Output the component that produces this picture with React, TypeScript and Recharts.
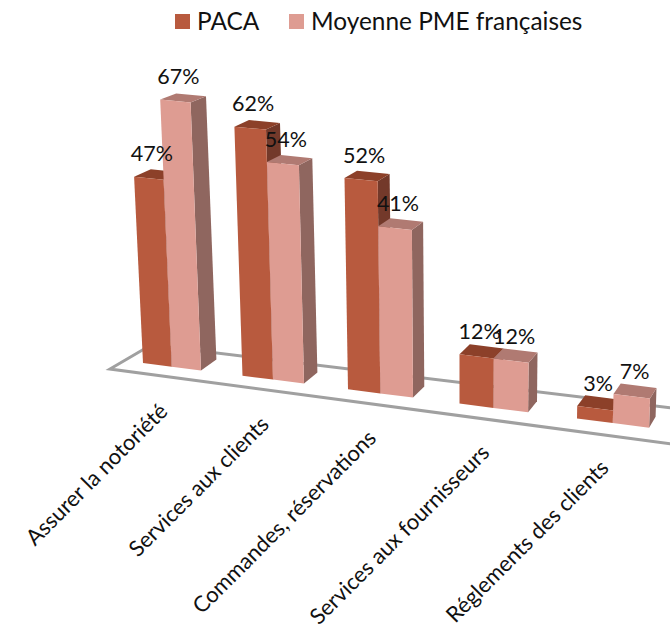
import { BarChart, Bar, XAxis, YAxis, LabelList, Customized } from 'recharts';

const categories = [
  'Assurer la notoriété',
  'Services aux clients',
  'Commandes, réservations',
  'Services aux fournisseurs',
  'Réglements des clients',
];
const paca = [47, 62, 52, 12, 3];
const moyenne = [67, 54, 41, 12, 7];

const data = categories.map((name, i) => ({ name, paca: paca[i], moyenne: moyenne[i] }));

const FONT = 'Lato, sans-serif';
const BAND = 108.5;
const FIRST_X = 143;

// the original is a 3D chart: push the library's flat coordinates onto a tilted floor
function project(x: number, h: number, d: number) {
  const t = (x - FIRST_X) / BAND;
  const bx = FIRST_X + 96.5 * t + 3 * t * t;
  const by = 363 + 0.128 * (bx - FIRST_X);
  const s = (0.985 + 0.00012 * (bx - FIRST_X)) * (1 + 0.00003 * h);
  const sh = h * s;
  const px = bx - sh * (460 - bx) * 0.00015;
  return [px + d * (19.5 - 0.02 * bx), by - sh - d * (11 - 0.018 * h)];
}

const pts = (list: number[][]) => list.map((p) => `${p[0].toFixed(1)},${p[1].toFixed(1)}`).join(' ');

function Bar3D(props: any) {
  const { x, width: w, height: h, front, top, side } = props;
  const fl = project(x, h, 0);
  const fr = project(x + w, h, 0);
  const bl = project(x, h, 1);
  const br = project(x + w, h, 1);
  const fl0 = project(x, 0, 0);
  const fr0 = project(x + w, 0, 0);
  const br0 = project(x + w, 0, 1);
  return (
    <g>
      <polygon points={pts([fr, br, br0, fr0])} fill={side} />
      <polygon points={pts([fl, fr, br, bl])} fill={top} />
      <polygon points={pts([fl, fr, fr0, fl0])} fill={front} />
    </g>
  );
}

function ValueLabel(props: any) {
  const { x, width, height, value } = props;
  const [px, py] = project(x + width / 2, height, 0);
  return (
    <text x={px + 3} y={py - 25} textAnchor="middle" dominantBaseline="central" fontFamily={FONT} fontSize={21.5} fill="#111">
      {value}%
    </text>
  );
}

function CategoryTick(props: any) {
  const { x, payload } = props;
  const [px, py] = project(x, 0, 0);
  return (
    <text
      transform={`translate(${px - 3},${py + 46}) rotate(-45)`}
      textAnchor="end"
      fontFamily={FONT}
      fontSize={22}
      fill="#111"
    >
      {payload.value}
    </text>
  );
}

function Floor() {
  return (
    <polygon
      points="110,369 151,345 672,408 672,444"
      fill="#fff"
      stroke="#a0a0a0"
      strokeWidth={3}
    />
  );
}

function LegendRow() {
  return (
    <svg x={0} y={0}>
      <rect x={175} y={14} width={15} height={15} fill="#B85A3E" />
      <text x={197} y={30} fontFamily={FONT} fontSize={24.4} fill="#111">PACA</text>
      <rect x={289} y={14} width={15} height={15} fill="#DE9C92" />
      <text x={311} y={30} fontFamily={FONT} fontSize={24.4} fill="#111">Moyenne PME françaises</text>
    </svg>
  );
}

export default function App() {
  return (
    <div style={{ position: 'absolute', left: 0, top: 0, width: 670, height: 629 }}>
      <BarChart
        width={670}
        height={629}
        data={data}
        margin={{ top: 100, right: 6.5, bottom: 219, left: 121 }}
        barSize={32}
        barGap={0}
      >
        <Customized component={Floor} />
        <XAxis dataKey="name" axisLine={false} tickLine={false} interval={0} height={30} tick={<CategoryTick />} />
        <YAxis hide domain={[0, 70]} />
        <Bar
          dataKey="paca"
          isAnimationActive={false}
          shape={<Bar3D front="#B85A3E" top="#8C4029" side="#73392A" />}
        >
          <LabelList dataKey="paca" content={<ValueLabel />} />
        </Bar>
        <Bar
          dataKey="moyenne"
          isAnimationActive={false}
          shape={<Bar3D front="#DE9C92" top="#B07A72" side="#8F665F" />}
        >
          <LabelList dataKey="moyenne" content={<ValueLabel />} />
        </Bar>
        <Customized component={LegendRow} />
      </BarChart>
    </div>
  );
}
